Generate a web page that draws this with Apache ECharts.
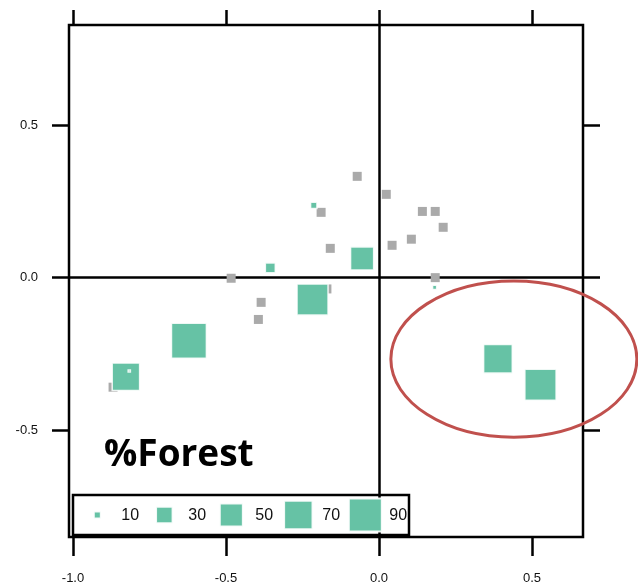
<!DOCTYPE html>
<html>
<head>
<meta charset="utf-8">
<script src="https://cdn.jsdelivr.net/npm/echarts@6/dist/echarts.min.js"></script>
<style>
html,body{margin:0;padding:0;background:#fff;}
#c{width:638px;height:586px;}
</style>
</head>
<body>
<div id="c"></div>
<script>
// ---- data ----
const xTicks = [-1.0, -0.5, 0.0, 0.5];
const yTicks = [-0.5, 0.0, 0.5];

// all sites (gray)
const siteX = [-0.071, 0.024, 0.142, 0.184, 0.210, 0.106, 0.043, -0.159, -0.189, -0.483, -0.385, -0.394, 0.184, -0.170, -0.869];
const siteY = [0.330, 0.271, 0.215, 0.215, 0.163, 0.124, 0.104, 0.094, 0.212, -0.004, -0.083, -0.139, -0.002, -0.039, -0.361];

// sites with %Forest (teal, sized by value)
const forestX = [-0.621, -0.217, 0.528, 0.389, -0.827, -0.055, -0.355, -0.213, 0.182, -0.816];
const forestY = [-0.209, -0.074, -0.353, -0.268, -0.327, 0.061, 0.030, 0.235, -0.034, -0.308];
const forestPct = [99, 81, 82, 71, 66, 50, 15, 9, 6, 4];

// legend
const legendValues = [10, 30, 50, 70, 90];
const legendLabels = ['10', '30', '50', '70', '90'];

const title = '%Forest';

// ---- styles ----
const TEAL = '#66c2a5';
const GRAY = '#aaaaaa';
const BLACK = '#000';
function sizeFor(v) { return Math.max(2, 4.11 * Math.sqrt(v) - 6); }

const chart = echarts.init(document.getElementById('c'), null, {renderer: 'canvas'});

const option = {
  animation: false,
  backgroundColor: '#fff',
  textStyle: {fontFamily: '"Liberation Sans", Arial, sans-serif'},
  grid: [
    {left: 69, top: 25, width: 514, height: 512, show: true, borderColor: BLACK, borderWidth: 2.5, backgroundColor: 'transparent'},
    {left: 73, top: 25, width: 459, height: 512, show: false},
    {left: 69, top: 125, width: 514, height: 305, show: false},
    {left: 73, top: 495, width: 336, height: 40, show: true, borderColor: BLACK, borderWidth: 2.5, backgroundColor: '#fff'}
  ],
  xAxis: [
    {gridIndex: 0, type: 'value', min: -1.013, max: 0.667,
      axisLine: {show: true, onZero: true, lineStyle: {color: BLACK, width: 2.5}},
      axisTick: {show: false}, axisLabel: {show: false}, splitLine: {show: false}},
    {gridIndex: 1, type: 'value', min: xTicks[0], max: xTicks[xTicks.length - 1], interval: 0.5, position: 'bottom',
      axisLine: {show: false, onZero: false}, axisTick: {show: true, length: 19, lineStyle: {color: BLACK, width: 2.5}},
      axisLabel: {show: true, margin: 35, fontSize: 13, color: '#111', formatter: v => v.toFixed(1)},
      splitLine: {show: false}},
    {gridIndex: 1, type: 'value', min: xTicks[0], max: xTicks[xTicks.length - 1], interval: 0.5, position: 'top',
      axisLine: {show: false, onZero: false}, axisTick: {show: true, length: 15, lineStyle: {color: BLACK, width: 2.5}},
      axisLabel: {show: false}, splitLine: {show: false}},
    {gridIndex: 2, type: 'value', min: 0, max: 1, show: false},
    {gridIndex: 3, type: 'value', min: -0.363, max: 4.652, show: false}
  ],
  yAxis: [
    {gridIndex: 0, type: 'value', min: -0.852, max: 0.826,
      axisLine: {show: true, onZero: true, lineStyle: {color: BLACK, width: 2.5}},
      axisTick: {show: false}, axisLabel: {show: false}, splitLine: {show: false}},
    {gridIndex: 1, type: 'value', min: 0, max: 1, show: false},
    {gridIndex: 2, type: 'value', min: yTicks[0], max: yTicks[yTicks.length - 1], interval: 0.5, position: 'left',
      axisLine: {show: false, onZero: false}, axisTick: {show: true, length: 17, lineStyle: {color: BLACK, width: 2.5}},
      axisLabel: {show: true, margin: 31, fontSize: 13, color: '#111', formatter: v => v.toFixed(1)},
      splitLine: {show: false}},
    {gridIndex: 2, type: 'value', min: yTicks[0], max: yTicks[yTicks.length - 1], interval: 0.5, position: 'right',
      axisLine: {show: false, onZero: false}, axisTick: {show: true, length: 17, lineStyle: {color: BLACK, width: 2.5}},
      axisLabel: {show: false}, splitLine: {show: false}},
    {gridIndex: 3, type: 'value', min: -1, max: 1, show: false}
  ],
  series: [
    {type: 'scatter', xAxisIndex: 0, yAxisIndex: 0, symbol: 'rect', symbolSize: 9,
      itemStyle: {color: GRAY, opacity: 1},
      data: siteX.map((x, i) => [x, siteY[i]]), z: 3},
    {type: 'scatter', xAxisIndex: 0, yAxisIndex: 0, symbol: 'rect',
      symbolSize: d => sizeFor(d[2]),
      itemStyle: {color: TEAL, opacity: 1, borderColor: 'rgba(255,255,255,0.85)', borderWidth: 1.5},
      data: forestX.map((x, i) => [x, forestY[i], forestPct[i]]), z: 4},
    {type: 'scatter', xAxisIndex: 4, yAxisIndex: 4, symbol: 'rect',
      symbolSize: d => sizeFor(d[2]),
      itemStyle: {color: TEAL, opacity: 1, borderColor: 'rgba(255,255,255,0.9)', borderWidth: 2},
      label: {show: true, position: 'inside', align: 'left', verticalAlign: 'middle', offset: [24, 1],
        fontSize: 16, color: '#111', fontFamily: '"Liberation Sans", Arial, sans-serif',
        formatter: p => legendLabels[p.dataIndex]},
      data: legendValues.map((v, i) => [i, 0, v]), z: 5}
  ]
};
chart.setOption(option);

// annotation ellipse (data coords) and title text
const ell = {cx: 0.441, cy: -0.269, rx: 0.402, ry: 0.256};
const c = chart.convertToPixel({xAxisIndex: 0, yAxisIndex: 0}, [ell.cx, ell.cy]);
const e1 = chart.convertToPixel({xAxisIndex: 0, yAxisIndex: 0}, [ell.cx + ell.rx, ell.cy + ell.ry]);
chart.setOption({
  graphic: [
    {type: 'ellipse', z: 10, silent: true,
      shape: {cx: c[0], cy: c[1], rx: Math.abs(e1[0] - c[0]), ry: Math.abs(e1[1] - c[1])},
      style: {fill: null, stroke: '#c0504d', lineWidth: 3}},
    {type: 'text', z: 10, silent: true, x: 104, y: 455,
      style: {text: title, font: 'bold 37px "Open Sans", sans-serif', fill: '#000', verticalAlign: 'middle'}}
  ]
});
</script>
</body>
</html>
